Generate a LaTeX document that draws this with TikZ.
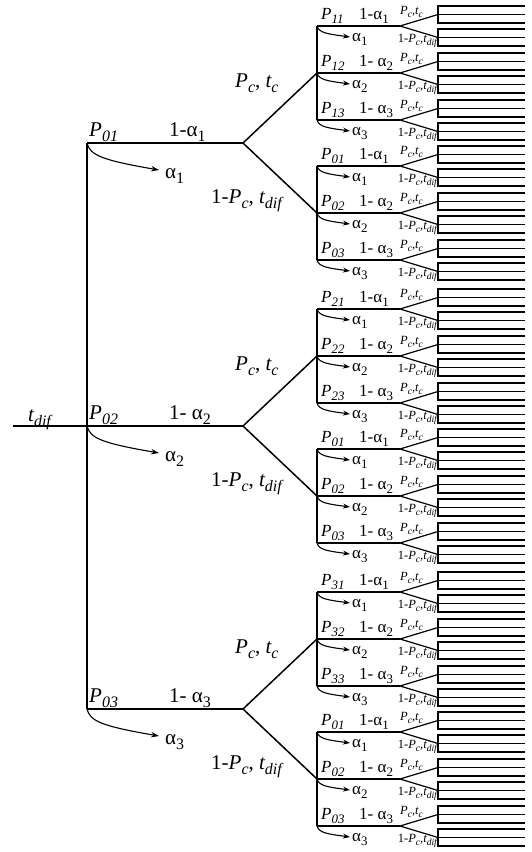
\documentclass[tikz,border=0pt]{standalone}
\usepackage{fontspec}
\setmainfont{Liberation Serif}
\usepackage{graphicx}
\usetikzlibrary{arrows.meta}
\newcommand\subs[1]{\raisebox{-0.28em}{\scalebox{0.76}{#1}}}
\newcommand\ita[1]{{\itshape #1}}
\newcommand\Pij[1]{\ita{P}\subs{\itshape #1}}
\begin{document}
\begin{tikzpicture}[x=1pt,y=-1pt,
  lab1/.style={font=\fontsize{21}{21}\selectfont, inner sep=0pt},
  lab2/.style={font=\fontsize{17}{17}\selectfont, inner sep=0pt},
  lab3/.style={font=\fontsize{12.5}{12.5}\selectfont, inner sep=0pt},
  main/.style={line width=1.5pt},
  thinl/.style={line width=1.2pt},
  arr1/.style={line width=1.1pt, -{Stealth[length=8pt,width=5.5pt]}},
  arr2/.style={line width=1.1pt, -{Stealth[length=7pt,width=5pt]}}]
\useasboundingbox (0,0) rectangle (531,852);
\fill[white] (0,0) rectangle (531,852);
\coordinate (L) at (13,426);
\coordinate (R) at (87,426);
\draw[main] (L) -- (R);
\node[lab1,anchor=base west] (tdif) at (28,421) {\ita{t}\subs{\itshape dif}};
\coordinate (Jtop) at (87,143);
\coordinate (Jbot) at (87,709);
\draw[main] (Jtop) -- (Jbot);
% level 1
\foreach \ii/\y/\lab in {1/143/{1-α\subs{1}}, 2/426/{1- α\subs{2}}, 3/709/{1- α\subs{3}}} {
  \coordinate (J\ii) at (87,\y);
  \coordinate (F\ii) at (243,\y);
  \coordinate (U\ii) at (317,\y-70);
  \coordinate (D\ii) at (317,\y+70);
  \draw[main] (J\ii) -- (F\ii);
  \draw[main] (U\ii) -- (F\ii) -- (D\ii);
  \node[lab1,anchor=base west] (P0\ii) at (89,\y-7) {\Pij{0\ii}};
  \node[lab1,anchor=base west] (q\ii) at (169,\y-7) {\lab};
  \coordinate (at\ii) at (159,\y+27);
  \draw[arr1] (J\ii) .. controls +(3,12) and +(-58,-10) .. (at\ii);
  \node[lab1,anchor=base west] (a\ii) at (165,\y+35) {α\subs{\ii}};
  \node[lab1,anchor=base west] (pc\ii) at (235,\y-56) {\Pij{c}, \ita{t}\subs{\itshape c}};
  \node[lab1,anchor=base west] (npc\ii) at (211,\y+60) {1-\Pij{c}, \ita{t}\subs{\itshape dif}};
}
% level 2
\foreach \k/\m/\dd in {1/73/1, 2/213/0, 3/356/2, 4/496/0, 5/639/3, 6/779/0} {
  \coordinate (T\k) at (317,\m-47);
  \coordinate (B\k) at (317,\m+47);
  \draw[main] (T\k) -- (B\k);
  \foreach \jj/\spc in {1/{}, 2/{\ }, 3/{\ }} {
    \pgfmathsetmacro\yy{\m+(\jj-2)*47}
    \coordinate (s\k\jj) at (317,\yy);
    \coordinate (f\k\jj) at (400,\yy);
    \coordinate (cu\k\jj) at (438,\yy-11.5);
    \coordinate (cd\k\jj) at (438,\yy+11.5);
    \draw[main] (s\k\jj) -- (f\k\jj);
    \draw[thinl] (cu\k\jj) -- (f\k\jj) -- (cd\k\jj);
    \foreach \cc in {-11.5, 11.5} {
      \draw[thinl] (525,\yy+\cc-8.5) -- (438,\yy+\cc-8.5) -- (438,\yy+\cc+8.5) -- (525,\yy+\cc+8.5);
      \draw[thinl] (438,\yy+\cc) -- (525,\yy+\cc);
    }
    \node[lab2,anchor=base west] (p\k\jj) at (321,\yy-7) {\Pij{\dd\jj}};
    \node[lab2,anchor=base west] (o\k\jj) at (359,\yy-7) {1-\spc α\subs{\jj}};
    \node[lab3,anchor=base west] (x\k\jj) at (400,\yy-12) {\Pij{c},\ita{t}\subs{\itshape c}};
    \node[lab3,anchor=base east] (z\k\jj) at (437,\yy+16) {1-\Pij{c},\ita{t}\subs{\itshape dif}};
    \coordinate (ta\k\jj) at (350,\yy+11);
    \draw[arr2] (s\k\jj) .. controls +(2,7) and +(-22,-3) .. (ta\k\jj);
    \node[lab2,anchor=base west] (al\k\jj) at (352,\yy+15) {α\subs{\jj}};
  }
}
\end{tikzpicture}
\end{document}
